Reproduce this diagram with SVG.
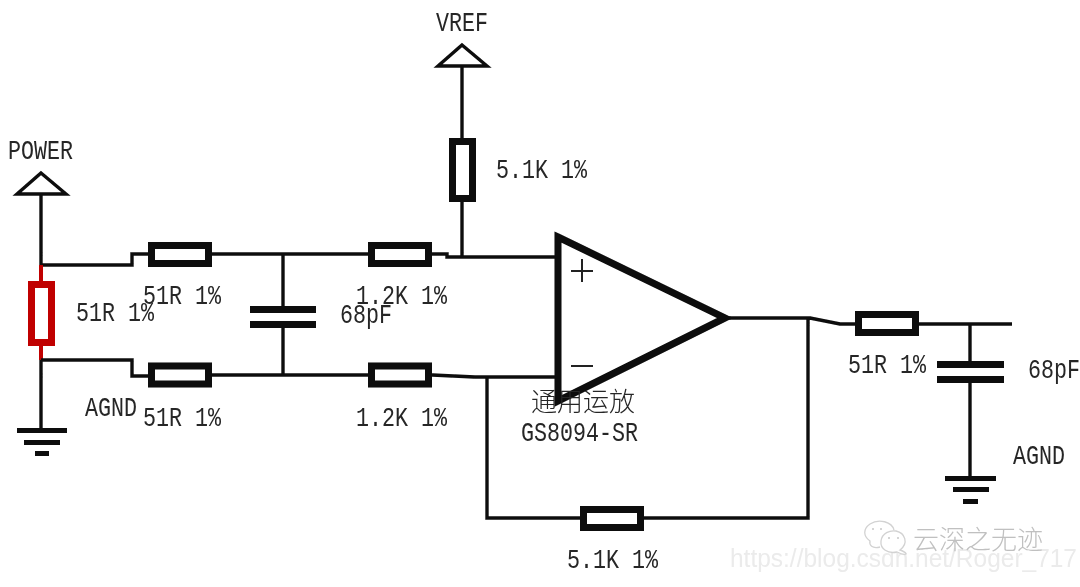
<svg xmlns="http://www.w3.org/2000/svg" width="1080" height="587" viewBox="0 0 1080 587">
<style>
.w{fill:none;stroke:#0a0a0a;stroke-width:3.4;stroke-linejoin:miter}
.r{fill:#fff;stroke:#0a0a0a;stroke-width:7}
.t{font-family:"Liberation Mono",monospace;font-size:21.67px;fill:#262626}
.b{fill:#0a0a0a}
.wm{font-family:"Liberation Sans",sans-serif;font-size:25px;fill:#ebebeb}
.cn{font-family:"Noto Sans CJK SC",sans-serif;font-weight:300}
</style>
<defs><filter id="s" x="-5%" y="-5%" width="110%" height="110%"><feGaussianBlur stdDeviation="0.45"/></filter></defs>
<rect width="1080" height="587" fill="#fff"/>
<g filter="url(#s)">
<g id="connectors">
<path class="w" d="M41 194V265M41 265H132V254H148M212 254H368M432 254H447V257H556M462 66V138M462 202V257"/>
<path class="w" style="stroke:#c00000;stroke-width:4" d="M41 265V281M41 346V360"/>
<path class="w" d="M41 360H132V376H148M41 360V430M212 375H368M432 375L475 377H556M283 254V306M283 328V375"/>
<path class="w" d="M487 377V518H580M644 518H808V318M728 318H810L840 324H855M919 324H1012M970 324V361M970 383V476"/>
</g>
<g id="power"><path d="M41 173L66 194H17Z" fill="#fff" stroke="#0a0a0a" stroke-width="3.4"/><text class="t" transform="translate(8 159) scale(1 1.25)">POWER</text></g>
<g id="vref"><path d="M462 45L487 66H438Z" fill="#fff" stroke="#0a0a0a" stroke-width="3.4"/><text class="t" transform="translate(436 31) scale(1 1.25)">VREF</text></g>
<g id="r-red"><rect x="31.500" y="284.500" width="20" height="58" fill="#fff" stroke="#c00000" stroke-width="7"/><text class="t" transform="translate(76 321) scale(1 1.25)">51R 1%</text></g>
<g id="r-top"><rect class="r" x="151.500" y="245.500" width="57" height="18"/><text class="t" transform="translate(143 304) scale(1 1.25)">51R 1%</text></g>
<g id="r-bottom"><rect class="r" x="151.500" y="366" width="57" height="18"/><text class="t" transform="translate(143 426) scale(1 1.25)">51R 1%</text></g>
<g id="agnd-left"><rect class="b" x="17" y="428" width="50" height="5"/><rect class="b" x="24" y="440" width="36" height="5"/><rect class="b" x="35" y="451" width="14" height="5"/><text class="t" transform="translate(85 416) scale(1 1.25)">AGND</text></g>
<g id="c-left"><rect class="b" x="250" y="306" width="66" height="7"/><rect class="b" x="250" y="321" width="66" height="7"/><text class="t" transform="translate(340 323) scale(1 1.25)">68pF</text></g>
<g id="r-plus"><rect class="r" x="371.500" y="245.500" width="57" height="18"/><text class="t" transform="translate(356 304) scale(1 1.25)">1.2K 1%</text></g>
<g id="r-minus"><rect class="r" x="371.500" y="366" width="57" height="18"/><text class="t" transform="translate(356 426) scale(1 1.25)">1.2K 1%</text></g>
<g id="r-vref"><rect class="r" x="452.500" y="141.500" width="20" height="57"/><text class="t" transform="translate(496 178) scale(1 1.25)">5.1K 1%</text></g>
<g id="opamp"><path d="M558 237L725 318L558 401Z" fill="#fff" stroke="#0a0a0a" stroke-width="7" stroke-linejoin="miter"/><path d="M571 271H593M582 259V282M571 366H593" fill="none" stroke="#222" stroke-width="2"/><text class="cn" x="531" y="411" style="font-size:26px;fill:#262626">通用运放</text><text class="t" transform="translate(521 441) scale(1 1.25)">GS8094-SR</text></g>
<g id="r-out"><rect class="r" x="858.500" y="314.500" width="57" height="18"/><text class="t" transform="translate(848 373) scale(1 1.25)">51R 1%</text></g>
<g id="c-right"><rect class="b" x="937" y="361" width="67" height="7"/><rect class="b" x="937" y="376" width="67" height="7"/><text class="t" transform="translate(1028 378) scale(1 1.25)">68pF</text></g>
<g id="agnd-right"><rect class="b" x="945" y="476" width="51" height="5"/><rect class="b" x="953" y="487" width="36" height="5"/><rect class="b" x="963" y="499" width="15" height="5"/><text class="t" transform="translate(1013 464) scale(1 1.25)">AGND</text></g>
<g id="r-fb"><rect class="r" x="583.500" y="509.500" width="57" height="18"/><text class="t" transform="translate(567 568) scale(1 1.25)">5.1K 1%</text></g>
</g>
<g id="watermark">
<text class="wm" x="730" y="567" textLength="347" lengthAdjust="spacingAndGlyphs">https://blog.csdn.net/Roger_717</text>
<path d="M880 547C872 549 869 545 870 541C863 536 863 529 870 524C879 518 892 522 894 530" fill="#fff" stroke="#d2d2d2" stroke-width="1.300"/>
<path d="M900 550C904 551 907 554 906 554C904 555 899 553 897 552C888 554 880 549 881 541C882 533 890 530 896 531C905 533 909 543 900 550Z" fill="#fff" stroke="#d2d2d2" stroke-width="1.300"/>
<path d="M873 528v2M881 528v2M889 537v2M898 537v2" stroke="#c8c8c8" stroke-width="1.500"/>
<text class="cn" x="913" y="549" style="font-size:26px;fill:#c0c0c0">云深之无迹</text>
</g>
</svg>
